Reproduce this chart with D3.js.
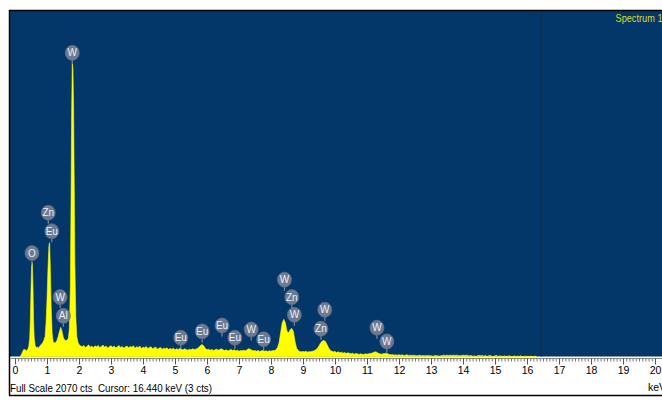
<!DOCTYPE html>
<html>
<head>
<meta charset="utf-8">
<script src="https://cdn.jsdelivr.net/npm/d3@7/dist/d3.min.js"></script>
<style>
  html, body { margin: 0; padding: 0; background: #fff; }
  svg { display: block; font-family: "Liberation Sans", Arial, sans-serif; }
  .status { white-space: pre; }
</style>
</head>
<body>
<svg id="chart" width="662" height="400"></svg>
<script>
// EDS spectrum: [energy keV, counts]
const spectrum = [
  [0.16,0],[0.20,12],[0.24,30],[0.28,44],[0.32,40],[0.36,34],[0.40,44],[0.43,60],[0.46,110],[0.48,220],
  [0.50,400],[0.52,540],[0.54,560],[0.56,430],[0.58,220],[0.60,110],[0.63,66],[0.66,52],[0.70,58],[0.74,50],
  [0.78,64],[0.82,72],[0.86,80],[0.90,96],[0.94,120],[0.97,200],[1.00,340],[1.03,520],[1.06,660],[1.08,680],
  [1.10,560],[1.13,300],[1.16,140],[1.19,90],[1.23,80],[1.27,84],[1.31,96],[1.35,120],[1.39,150],[1.43,174],
  [1.47,150],[1.51,114],[1.55,98],[1.59,94],[1.63,98],[1.67,110],[1.70,170],[1.73,420],[1.75,900],[1.77,1450],
  [1.79,1750],[1.81,1720],[1.83,1500],[1.85,1050],[1.87,560],[1.90,240],[1.93,120],[1.97,84],[2.01,70],
  [2.05,62],[2.10,58],[2.15,66],[2.20,54],[2.25,60],[2.30,70],[2.35,56],[2.40,62],[2.45,52],[2.50,64],
  [2.55,58],[2.60,66],[2.65,54],[2.70,60],[2.75,68],[2.80,56],[2.85,62],[2.90,50],[2.95,60],[3.00,64],
  [3.05,56],[3.10,62],[3.15,52],[3.20,58],[3.25,66],[3.30,54],[3.35,60],[3.40,50],[3.45,58],[3.50,62],
  [3.55,52],[3.60,60],[3.65,56],[3.70,64],[3.75,50],[3.80,58],[3.85,54],[3.90,62],[3.95,48],[4.00,56],
  [4.05,52],[4.10,60],[4.15,48],[4.20,54],[4.25,58],[4.30,46],[4.35,52],[4.40,56],[4.45,44],[4.50,50],
  [4.55,54],[4.60,44],[4.65,50],[4.70,46],[4.75,52],[4.80,42],[4.85,48],[4.90,44],[4.95,50],[5.00,40],
  [5.05,46],[5.10,42],[5.15,48],[5.20,44],[5.25,40],[5.30,46],[5.35,42],[5.40,38],[5.45,44],[5.50,40],
  [5.55,46],[5.60,42],[5.65,44],[5.70,48],[5.75,56],[5.80,66],[5.85,72],[5.90,62],[5.95,48],[6.00,40],
  [6.05,44],[6.10,38],[6.15,42],[6.20,36],[6.25,40],[6.30,44],[6.35,38],[6.40,42],[6.45,46],[6.50,40],
  [6.55,36],[6.60,40],[6.65,34],[6.70,38],[6.75,42],[6.80,36],[6.85,40],[6.90,34],[6.95,38],[7.00,32],
  [7.05,36],[7.10,34],[7.15,38],[7.20,34],[7.25,40],[7.30,46],[7.35,44],[7.40,38],[7.45,34],[7.50,36],
  [7.55,32],[7.60,36],[7.65,30],[7.70,34],[7.75,36],[7.80,32],[7.85,34],[7.90,30],[7.95,34],[8.00,32],
  [8.05,36],[8.10,34],[8.15,40],[8.20,52],[8.25,80],[8.30,140],[8.35,200],[8.40,222],[8.45,200],[8.50,150],
  [8.55,142],[8.60,160],[8.65,168],[8.70,150],[8.75,90],[8.80,50],[8.85,36],[8.90,30],[8.95,28],[9.00,30],
  [9.05,28],[9.10,32],[9.15,26],[9.20,30],[9.25,28],[9.30,32],[9.35,34],[9.40,40],[9.45,50],[9.50,64],
  [9.55,80],[9.60,92],[9.65,96],[9.70,90],[9.75,72],[9.80,52],[9.85,38],[9.90,32],[9.95,28],[10.00,30],
  [10.05,24],[10.10,28],[10.15,22],[10.20,26],[10.25,20],[10.30,24],[10.35,18],[10.40,22],[10.45,20],[10.50,16],
  [10.55,20],[10.60,14],[10.65,18],[10.70,16],[10.75,12],[10.80,16],[10.85,14],[10.90,12],[10.95,16],[11.00,14],
  [11.05,16],[11.10,18],[11.15,20],[11.20,24],[11.25,28],[11.30,26],[11.35,20],[11.40,16],[11.45,14],[11.50,16],
  [11.55,18],[11.60,20],[11.65,16],[11.70,12],[11.75,10],[11.80,12],[11.85,8],[11.90,10],[11.95,8],[12.00,10],
  [12.05,8],[12.10,10],[12.15,6],[12.20,8],[12.25,10],[12.30,6],[12.35,8],[12.40,6],[12.45,8],[12.50,6],
  [12.55,4],[12.60,6],[12.65,8],[12.70,4],[12.75,6],[12.80,4],[12.85,6],[12.90,4],[12.95,6],[13.00,4],
  [13.05,2],[13.10,4],[13.15,6],[13.20,4],[13.25,2],[13.30,4],[13.35,6],[13.40,8],[13.45,6],[13.50,8],
  [13.55,6],[13.60,8],[13.65,6],[13.70,8],[13.75,6],[13.80,8],[13.85,6],[13.90,4],[13.95,6],[14.00,8],
  [14.05,6],[14.10,8],[14.15,6],[14.20,4],[14.25,6],[14.30,2],[14.35,4],[14.40,0],[14.45,4],[14.50,6],
  [14.55,4],[14.60,6],[14.65,2],[14.70,6],[14.75,0],[14.80,4],[14.85,6],[14.90,2],[14.95,0],[15.00,4],
  [15.05,6],[15.10,0],[15.15,4],[15.20,2],[15.25,0],[15.30,4],[15.35,0],[15.40,2],[15.45,4],[15.50,0],
  [15.55,0],[15.60,4],[15.65,0],[15.70,2],[15.75,0],[15.80,4],[15.85,0],[15.90,0],[15.95,2],[16.00,0],
  [16.05,0],[16.10,2],[16.15,0],[16.20,0],[16.25,2],[16.30,0]
];

// Element markers: symbol, line energy (keV), marker height (counts)
const markerElements = ["W","Zn","Eu","O","W","Al","Eu","Eu","Eu","Eu","W","Eu","W","Zn","W","W","Zn","W","W"];
const markerKeV      = [1.79,1.04,1.15,0.53,1.41,1.51,5.18,5.85,6.47,6.87,7.38,7.77,8.42,8.65,8.73,9.68,9.56,11.31,11.62];
const markerCts      = [1814,859,748,618,355,243,112,150,185,112,161,103,459,355,249,279,166,172,90];

const axisLabels = [0,1,2,3,4,5,6,7,8,9,10,11,12,13,14,15,16,17,18,19,20];
const fullScale = 2070;
const cursorKeV = 16.44;
const cursorCts = 3;
const spectrumName = "Spectrum 1";

const svg = d3.select("#chart");
const W = 662, H = 400;
const plot = { left: 9, top: 10, bottom: 356.5 };

const x = d3.scaleLinear().domain([0, 20]).range([15, 655]);
const y = d3.scaleLinear().domain([0, fullScale]).range([plot.bottom, plot.top]);

// plot background
svg.append("rect")
  .attr("x", plot.left).attr("y", plot.top)
  .attr("width", W - plot.left).attr("height", plot.bottom - plot.top)
  .attr("fill", "#03376a");

// cursor
svg.append("line")
  .attr("x1", Math.round(x(cursorKeV)) + 0.5).attr("x2", Math.round(x(cursorKeV)) + 0.5)
  .attr("y1", plot.top).attr("y2", plot.bottom)
  .attr("stroke", "#1b2b40").attr("stroke-width", 1.5);

// spectrum
const area = d3.area()
  .x(d => x(d[0]))
  .y0(plot.bottom)
  .y1(d => y(d[1]))
  .curve(d3.curveLinear);
svg.append("path")
  .datum(spectrum)
  .attr("d", area)
  .attr("fill", "#ffff00")
  .attr("stroke", "#ffff00")
  .attr("stroke-width", 0.6);

// element markers
const markers = markerElements.map((el, i) => ({ el, keV: markerKeV[i], cts: markerCts[i] }));
const mg = svg.append("g").selectAll("g").data(markers).join("g")
  .attr("transform", d => `translate(${x(d.keV)},${y(d.cts)})`);
mg.append("line")
  .attr("x1", 0).attr("x2", 0).attr("y1", 6).attr("y2", 11)
  .attr("stroke", "#7d8aa0").attr("stroke-width", 1.2);
mg.append("ellipse")
  .attr("rx", 7).attr("ry", 7.5)
  .attr("fill", "#6c7a92")
  .attr("stroke", "#5d6b84").attr("stroke-width", 0.8);
mg.append("text")
  .attr("text-anchor", "middle").attr("dy", "0.36em")
  .attr("font-size", 10).attr("fill", "#eef0f4")
  .text(d => d.el);

// spectrum name (runs off the right edge of the window)
svg.append("text")
  .attr("x", 615.5).attr("y", 21.5)
  .attr("font-size", 10.5).attr("fill", "#dcdc1e")
  .attr("textLength", 47).attr("lengthAdjust", "spacingAndGlyphs")
  .text(spectrumName);

// frame
svg.append("line").attr("x1", plot.left).attr("x2", W).attr("y1", plot.top + 0.5).attr("y2", plot.top + 0.5)
  .attr("stroke", "#000").attr("stroke-width", 1.5);
svg.append("line").attr("x1", plot.left + 0.5).attr("x2", plot.left + 0.5).attr("y1", plot.top).attr("y2", 395.5)
  .attr("stroke", "#000").attr("stroke-width", 1.5);
svg.append("line").attr("x1", plot.left).attr("x2", W).attr("y1", 395.5).attr("y2", 395.5)
  .attr("stroke", "#000").attr("stroke-width", 1.5);

// energy ruler
const rulerY = 358.5;
const minorTicks = d3.range(0, 201).map(i => i / 10);
svg.append("g")
  .attr("transform", `translate(0,${rulerY})`)
  .call(d3.axisBottom(x).tickValues(minorTicks).tickSize(3).tickFormat(""))
  .call(g => g.select(".domain").attr("stroke", "#888").attr("d", `M${plot.left + 1},0H${W}`))
  .call(g => g.selectAll(".tick line").attr("stroke", "#777"));
const major = svg.append("g")
  .attr("transform", `translate(0,${rulerY})`)
  .call(d3.axisBottom(x).tickValues(axisLabels).tickSize(6).tickPadding(2).tickFormat(d => d));
major.select(".domain").remove();
major.selectAll(".tick line").attr("stroke", "#555");
major.selectAll(".tick text")
  .attr("font-family", "'Liberation Sans', Arial, sans-serif")
  .attr("font-size", 10.5).attr("fill", "#000");

// unit label (runs off the right edge of the window)
svg.append("text")
  .attr("x", 648).attr("y", 391)
  .attr("font-size", 10.5).attr("fill", "#000")
  .text("keV");

// status line
svg.append("text")
  .attr("class", "status")
  .attr("x", 10).attr("y", 391.5)
  .attr("font-size", 10.5).attr("fill", "#000")
  .attr("textLength", 202).attr("lengthAdjust", "spacingAndGlyphs")
  .text(`Full Scale ${fullScale} cts  Cursor: ${cursorKeV.toFixed(3)} keV (${cursorCts} cts)`);
</script>
</body>
</html>
